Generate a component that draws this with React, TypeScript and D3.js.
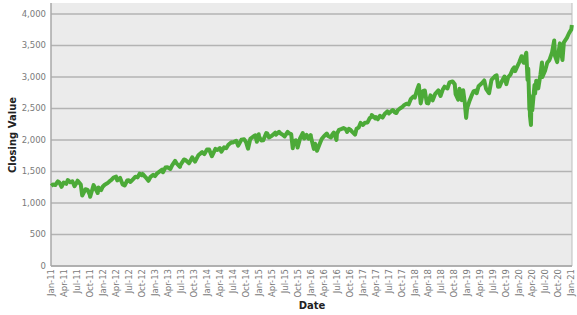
import React from "react";
import * as d3 from "d3";

const dates: string[] = [
  "2011-01-03","2011-01-14","2011-01-31","2011-02-18","2011-02-28","2011-03-16","2011-03-31","2011-04-18","2011-04-29","2011-05-16","2011-05-31","2011-06-15","2011-06-30","2011-07-07","2011-07-29","2011-08-08","2011-08-31","2011-09-15","2011-09-30","2011-10-03","2011-10-27","2011-11-25","2011-11-30","2011-12-19","2011-12-30",
  "2012-01-13","2012-01-31","2012-02-15","2012-02-29","2012-03-15","2012-04-02","2012-04-10","2012-04-30","2012-05-18","2012-06-01","2012-06-19","2012-06-29","2012-07-12","2012-07-31","2012-08-16","2012-08-31","2012-09-14","2012-09-28","2012-10-05","2012-10-25","2012-11-15","2012-11-30","2012-12-18","2012-12-31",
  "2013-01-15","2013-01-31","2013-02-19","2013-02-25","2013-03-14","2013-03-28","2013-04-18","2013-04-30","2013-05-21","2013-05-31","2013-06-24","2013-06-28","2013-07-23","2013-07-31","2013-08-27","2013-09-18","2013-09-30","2013-10-08","2013-10-31","2013-11-27","2013-12-12","2013-12-31",
  "2014-01-15","2014-02-03","2014-02-28","2014-03-14","2014-03-31","2014-04-11","2014-04-30","2014-05-15","2014-05-30","2014-06-20","2014-06-30","2014-07-24","2014-08-07","2014-08-29","2014-09-18","2014-09-30","2014-10-15","2014-10-31","2014-11-28","2014-12-05","2014-12-16","2014-12-29","2014-12-31",
  "2015-01-15","2015-01-30","2015-02-20","2015-02-27","2015-03-11","2015-03-31","2015-04-24","2015-04-30","2015-05-21","2015-05-29","2015-06-15","2015-06-29","2015-07-20","2015-07-31","2015-08-14","2015-08-25","2015-08-31","2015-09-16","2015-09-28","2015-10-15","2015-11-03","2015-11-13","2015-11-30","2015-12-14","2015-12-29","2015-12-31",
  "2016-01-20","2016-01-29","2016-02-11","2016-02-29","2016-03-15","2016-03-31","2016-04-20","2016-04-29","2016-05-19","2016-05-31","2016-06-08","2016-06-27","2016-06-30","2016-07-15","2016-07-29","2016-08-15","2016-08-31","2016-09-09","2016-09-22","2016-09-30","2016-10-14","2016-11-04","2016-11-15","2016-11-30","2016-12-13","2016-12-30",
  "2017-01-13","2017-01-31","2017-02-15","2017-02-28","2017-03-01","2017-03-27","2017-03-31","2017-04-13","2017-04-28","2017-05-17","2017-05-31","2017-06-19","2017-06-30","2017-07-26","2017-07-31","2017-08-10","2017-08-21","2017-08-31","2017-09-15","2017-09-29","2017-10-16","2017-10-31","2017-11-15","2017-11-30","2017-12-18","2017-12-29",
  "2018-01-12","2018-01-26","2018-02-08","2018-02-26","2018-03-09","2018-03-23","2018-04-02","2018-04-18","2018-05-03","2018-05-21","2018-06-12","2018-06-27","2018-07-13","2018-07-25","2018-08-15","2018-08-29","2018-09-20","2018-10-05","2018-10-11","2018-10-29","2018-11-07","2018-11-23","2018-12-03","2018-12-14","2018-12-24","2018-12-31",
  "2019-01-15","2019-01-31","2019-02-15","2019-02-28","2019-03-08","2019-03-21","2019-04-15","2019-04-30","2019-05-13","2019-05-31","2019-06-03","2019-06-20","2019-07-15","2019-07-26","2019-08-05","2019-08-15","2019-08-30","2019-09-19","2019-10-02","2019-10-15","2019-10-31","2019-11-15","2019-11-27","2019-12-03","2019-12-31",
  "2020-01-17","2020-01-31","2020-02-19","2020-02-28","2020-03-04","2020-03-12","2020-03-13","2020-03-16","2020-03-23","2020-03-26","2020-04-01","2020-04-17","2020-04-21","2020-04-29","2020-05-13","2020-05-29","2020-06-08","2020-06-11","2020-06-30","2020-07-15","2020-07-31","2020-08-18","2020-09-02","2020-09-08","2020-09-23","2020-10-12","2020-10-30","2020-11-09","2020-11-30","2020-12-15","2020-12-31",
  "2021-01-04"
];

const closes: number[] = [
  1271,1293,1286,1343,1327,1257,1326,1305,1364,1329,1345,1266,1321,1354,1292,1119,1219,1209,1131,1099,1285,1159,1247,1206,1258,
  1289,1312,1343,1366,1403,1419,1358,1398,1295,1278,1357,1362,1334,1379,1418,1407,1465,1441,1461,1412,1353,1416,1446,1426,
  1472,1498,1530,1488,1563,1569,1541,1598,1669,1631,1573,1606,1692,1686,1631,1725,1682,1656,1757,1808,1775,1848,
  1848,1742,1859,1841,1872,1815,1884,1870,1924,1963,1960,1988,1910,2003,2011,1972,1862,2018,2068,2075,1973,2091,2059,
  1993,1995,2110,2105,2040,2068,2117,2086,2131,2107,2084,2058,2128,2104,2092,1868,1972,1996,1882,2024,2110,2023,2080,2021,2078,2044,
  1859,1940,1829,1932,2016,2060,2102,2065,2040,2097,2119,2001,2099,2162,2174,2190,2171,2128,2177,2168,2133,2085,2180,2199,2271,2239,
  2275,2279,2349,2364,2396,2342,2363,2329,2384,2357,2412,2453,2423,2477,2470,2438,2428,2472,2500,2519,2557,2575,2565,2648,2690,2674,
  2786,2873,2581,2780,2786,2588,2582,2708,2630,2733,2787,2699,2801,2846,2818,2914,2930,2885,2728,2641,2814,2633,2790,2599,2351,2507,
  2610,2704,2776,2784,2743,2855,2905,2946,2812,2752,2744,2954,3014,3026,2844,2848,2926,3007,2887,2996,3038,3120,3154,3093,3231,
  3330,3226,3386,2954,3130,2481,2711,2386,2237,2630,2470,2875,2737,2940,2820,3044,3232,3002,3100,3227,3271,3390,3580,3332,3237,3534,3270,3550,3622,3695,3756,
  3825
];

const yTicks: number[] = [0, 500, 1000, 1500, 2000, 2500, 3000, 3500, 4000];
const xDomain: string[] = ["2011-01-01", "2021-01-05"];
const yMax = 4175;
const xLabel = "Date";
const yLabel = "Closing Value";

export default function App() {
  const W = 577, H = 315;
  const left = 51, right = 572, top = 3, bottom = 266;
  const parse = d3.timeParse("%Y-%m-%d");
  const x = d3.scaleTime().domain(xDomain.map((d) => parse(d)!)).range([left, right]);
  const y = d3.scaleLinear().domain([0, yMax]).range([bottom, top]);
  const data = dates.map((d, i) => ({ date: parse(d)!, v: closes[i] }));
  const line = d3.line<{ date: Date; v: number }>().x((d) => x(d.date)).y((d) => y(d.v));
  const xTicks = d3.timeMonth.range(parse("2011-01-01")!, parse("2021-01-02")!, 3);
  const fmt = d3.timeFormat("%b-%y");
  const yFmt = d3.format(",");
  const font = "Verdana, 'DejaVu Sans', sans-serif";

  return (
    <svg width={W} height={H} style={{ position: "absolute", left: 0, top: 0, background: "#fff" }}>
      <rect x={left} y={top} width={right - left} height={bottom - top} fill="#ebebeb" />
      {yTicks.map((t) => (
        <line key={t} x1={left} x2={right} y1={y(t)} y2={y(t)} stroke="#b3b3b3" strokeWidth={1.5} />
      ))}
      <line x1={left} x2={left} y1={top} y2={bottom} stroke="#a8a8a8" strokeWidth={1.5} />
      <line x1={right} x2={right} y1={top} y2={bottom} stroke="#bdbdbd" strokeWidth={1} />
      <line x1={left} x2={right} y1={bottom} y2={bottom} stroke="#a8a8a8" strokeWidth={1.5} />
      <path d={line(data) || ""} fill="none" stroke="#4caa38" strokeWidth={4} strokeLinejoin="round" />
      {yTicks.map((t) => (
        <text key={t} x={left - 5} y={y(t)} dy="0.35em" textAnchor="end" fontFamily={font} fontSize={8.5} fill="#7a7a7a">
          {yFmt(t)}
        </text>
      ))}
      {xTicks.map((t) => (
        <text
          key={+t}
          transform={`translate(${x(t)},${bottom + 3}) rotate(-90)`}
          dy="0.35em"
          textAnchor="end"
          fontFamily={font}
          fontSize={8.5}
          fill="#7a7a7a"
        >
          {fmt(t)}
        </text>
      ))}
      <text x={312} y={309} textAnchor="middle" fontFamily={font} fontSize={10} fontWeight="bold" fill="#222">
        {xLabel}
      </text>
      <text transform={`translate(16,135) rotate(-90)`} textAnchor="middle" fontFamily={font} fontSize={10} fontWeight="bold" fill="#222">
        {yLabel}
      </text>
    </svg>
  );
}
